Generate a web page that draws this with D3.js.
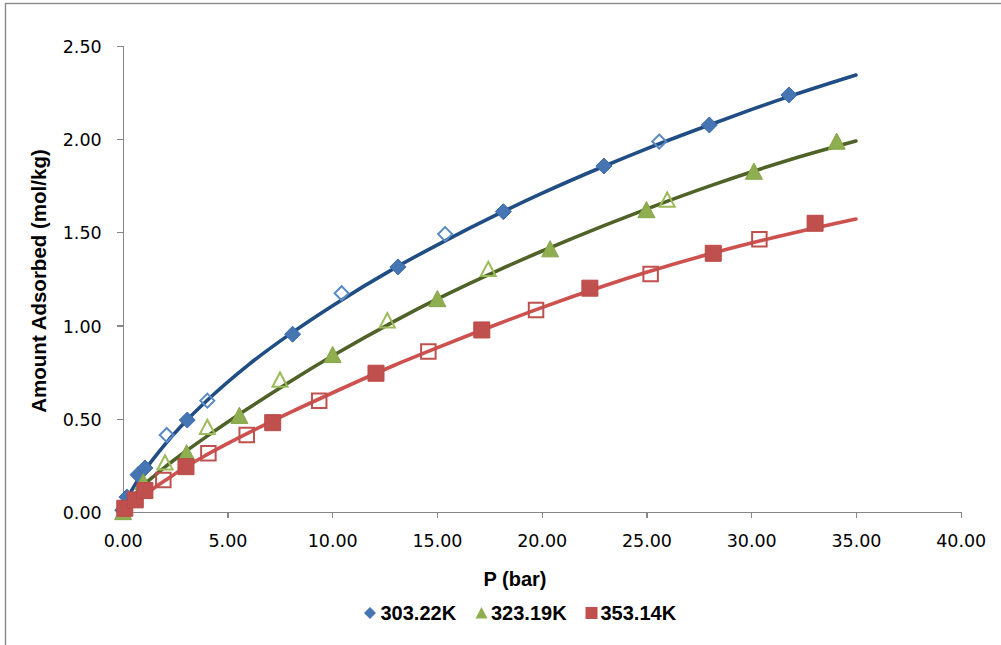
<!DOCTYPE html>
<html>
<head>
<meta charset="utf-8">
<script src="https://cdn.jsdelivr.net/npm/d3@7"></script>
<style>
  html, body { margin: 0; padding: 0; background: #ffffff; }
  svg { display: block; }
</style>
</head>
<body>
<svg id="chart" width="1001" height="645"></svg>
<script>
// Isotherm measurements (P in bar, amount in mol/kg)
const pressure303 = [0.0, 0.2, 0.73, 1.06, 3.08, 8.11, 13.14, 18.17, 22.97, 28.0, 31.8];
const amount303   = [0.01, 0.08, 0.20, 0.236, 0.493, 0.953, 1.314, 1.61, 1.855, 2.075, 2.236];
const pressure303Open = [2.10, 4.04, 10.45, 15.39, 25.61];
const amount303Open   = [0.413, 0.597, 1.173, 1.49, 1.986];

const pressure323 = [0.02, 0.98, 3.05, 5.57, 10.02, 15.02, 20.4, 25.0, 30.13, 34.08];
const amount323   = [0.0, 0.16, 0.315, 0.516, 0.842, 1.142, 1.409, 1.619, 1.825, 1.986];
const pressure323Open = [2.02, 4.04, 7.51, 12.63, 17.45, 25.99];
const amount323Open   = [0.264, 0.454, 0.708, 1.026, 1.301, 1.673];

const pressure353 = [0.1, 0.6, 1.06, 3.02, 7.16, 12.09, 17.14, 22.3, 28.19, 33.05];
const amount353   = [0.02, 0.065, 0.115, 0.243, 0.479, 0.744, 0.976, 1.2, 1.387, 1.548];
const pressure353Open = [1.94, 4.09, 5.92, 9.38, 14.59, 19.73, 25.2, 30.39];
const amount353Open   = [0.172, 0.315, 0.413, 0.597, 0.86, 1.083, 1.276, 1.462];

// Fitted isotherm curves
const fitPressure = [0, 0.25, 0.5, 1, 1.5, 2, 3, 4, 6, 8, 10, 13, 15, 18, 20, 23, 25, 28, 30, 32, 35];
const fit303 = [0, 0.075, 0.13, 0.215, 0.29, 0.36, 0.485, 0.595, 0.789, 0.955, 1.105, 1.309, 1.431, 1.602, 1.708, 1.855, 1.947, 2.075, 2.157, 2.235, 2.343];
const fit323 = [0, 0.045, 0.083, 0.143, 0.193, 0.239, 0.324, 0.404, 0.556, 0.700, 0.836, 1.025, 1.141, 1.300, 1.398, 1.537, 1.624, 1.747, 1.823, 1.894, 1.989];
const fit353 = [0, 0.024, 0.046, 0.089, 0.129, 0.167, 0.241, 0.306, 0.424, 0.534, 0.638, 0.788, 0.880, 1.012, 1.096, 1.213, 1.285, 1.383, 1.442, 1.496, 1.571];

const xTicks = [0, 5, 10, 15, 20, 25, 30, 35, 40];
const yTicks = [0, 0.5, 1.0, 1.5, 2.0, 2.5];
const legendLabels = ["303.22K", "323.19K", "353.14K"];

const svg = d3.select("#chart");

// Outer chart frame
svg.append("rect")
  .attr("x", 5.5).attr("y", 3.5)
  .attr("width", 1100).attr("height", 700)
  .attr("fill", "none").attr("stroke", "#8a8a8a").attr("stroke-width", 1.4);

const x = d3.scaleLinear().domain([0, 40]).range([122.7, 960.7]);
const y = d3.scaleLinear().domain([0, 2.5]).range([512, 45.7]);

const axisColor = "#868686";
const tickFont = "'DejaVu Sans', sans-serif";

// X axis
const gx = svg.append("g").attr("transform", `translate(0,${y(0)})`)
  .call(d3.axisBottom(x).tickValues(xTicks).tickSize(6).tickSizeOuter(0).tickFormat(d3.format(".2f")));
gx.select(".domain").attr("stroke", axisColor).attr("stroke-width", 1.3);
gx.selectAll(".tick line").attr("stroke", axisColor).attr("stroke-width", 1.3);
gx.selectAll(".tick text").attr("dy", null).attr("y", 34.5)
  .attr("font-family", tickFont).attr("font-size", 17.5).attr("fill", "#000");

// Y axis
const gy = svg.append("g").attr("transform", `translate(${x(0)},0)`)
  .call(d3.axisLeft(y).tickValues(yTicks).tickSize(6).tickSizeOuter(0).tickFormat(d3.format(".2f")));
gy.select(".domain").attr("stroke", axisColor).attr("stroke-width", 1.3);
gy.selectAll(".tick line").attr("stroke", axisColor).attr("stroke-width", 1.3);
gy.selectAll(".tick text").attr("x", -21).attr("dy", "0.38em")
  .attr("font-family", tickFont).attr("font-size", 17.5).attr("fill", "#000");
svg.selectAll(".domain, .tick line").attr("shape-rendering", "crispEdges");

// Axis titles
const titleFont = "'Liberation Sans', Arial, sans-serif";
svg.append("text")
  .attr("x", 515).attr("y", 586)
  .attr("text-anchor", "middle")
  .attr("font-family", titleFont).attr("font-weight", "bold").attr("font-size", 20)
  .text("P (bar)");
svg.append("text")
  .attr("transform", "translate(46,281) rotate(-90)")
  .attr("text-anchor", "middle")
  .attr("font-family", titleFont).attr("font-weight", "bold").attr("font-size", 20.5)
  .text("Amount Adsorbed (mol/kg)");

// Fitted curves
const zip = (xs, ys) => xs.map((p, i) => [p, ys[i]]);
const line = d3.line().x(d => x(d[0])).y(d => y(d[1])).curve(d3.curveMonotoneX);
const curves = [
  { data: zip(fitPressure, fit303), color: "#214d85" },
  { data: zip(fitPressure, fit323), color: "#4f6228" },
  { data: zip(fitPressure, fit353), color: "#cd514e" }
];
svg.append("g").selectAll("path").data(curves).join("path")
  .attr("d", d => line(d.data))
  .attr("fill", "none").attr("stroke", d => d.color)
  .attr("stroke-width", 3.6).attr("stroke-linecap", "round");

// Marker shapes, centred on the point
function markerPath(shape, s) {
  const h = s / 2;
  if (shape === "diamond") return `M0,${-h}L${h},0L0,${h}L${-h},0Z`;
  if (shape === "triangle") return `M0,${-h}L${h},${h * 0.9}L${-h},${h * 0.9}Z`;
  return `M${-h},${-h}H${h}V${h}H${-h}Z`;
}

const markerSets = [
  { data: zip(pressure303, amount303), shape: "diamond", size: 16, fill: "#4675b4", stroke: "#3f6ca8", open: false },
  { data: zip(pressure303Open, amount303Open), shape: "diamond", size: 14, fill: "none", stroke: "#5a8ac6", open: true },
  { data: zip(pressure323, amount323), shape: "triangle", size: 17, fill: "#8eae4f", stroke: "#86a549", open: false },
  { data: zip(pressure323Open, amount323Open), shape: "triangle", size: 15, fill: "none", stroke: "#9bbb59", open: true },
  { data: zip(pressure353, amount353), shape: "square", size: 16, fill: "#c0504d", stroke: "#b94a47", open: false },
  { data: zip(pressure353Open, amount353Open), shape: "square", size: 14.5, fill: "none", stroke: "#c0504d", open: true }
];

markerSets.forEach(set => {
  svg.append("g").selectAll("path").data(set.data).join("path")
    .attr("transform", d => `translate(${x(d[0])},${y(d[1])})`)
    .attr("d", markerPath(set.shape, set.size))
    .attr("fill", set.fill)
    .attr("stroke", set.stroke)
    .attr("stroke-width", set.open ? 2 : 1)
    .attr("stroke-linejoin", "miter");
});

// Legend
const legendItems = [
  { label: legendLabels[0], shape: "diamond", fill: "#4675b4", mx: 370, tx: 380.5 },
  { label: legendLabels[1], shape: "triangle", fill: "#8eae4f", mx: 481.5, tx: 491 },
  { label: legendLabels[2], shape: "square", fill: "#c0504d", mx: 591.5, tx: 600.5 }
];
const lg = svg.append("g");
legendItems.forEach(item => {
  lg.append("path")
    .attr("transform", `translate(${item.mx},613)`)
    .attr("d", markerPath(item.shape, 12))
    .attr("fill", item.fill);
  lg.append("text")
    .attr("x", item.tx).attr("y", 620)
    .attr("font-family", titleFont).attr("font-weight", "bold").attr("font-size", 20)
    .text(item.label);
});
</script>
</body>
</html>
